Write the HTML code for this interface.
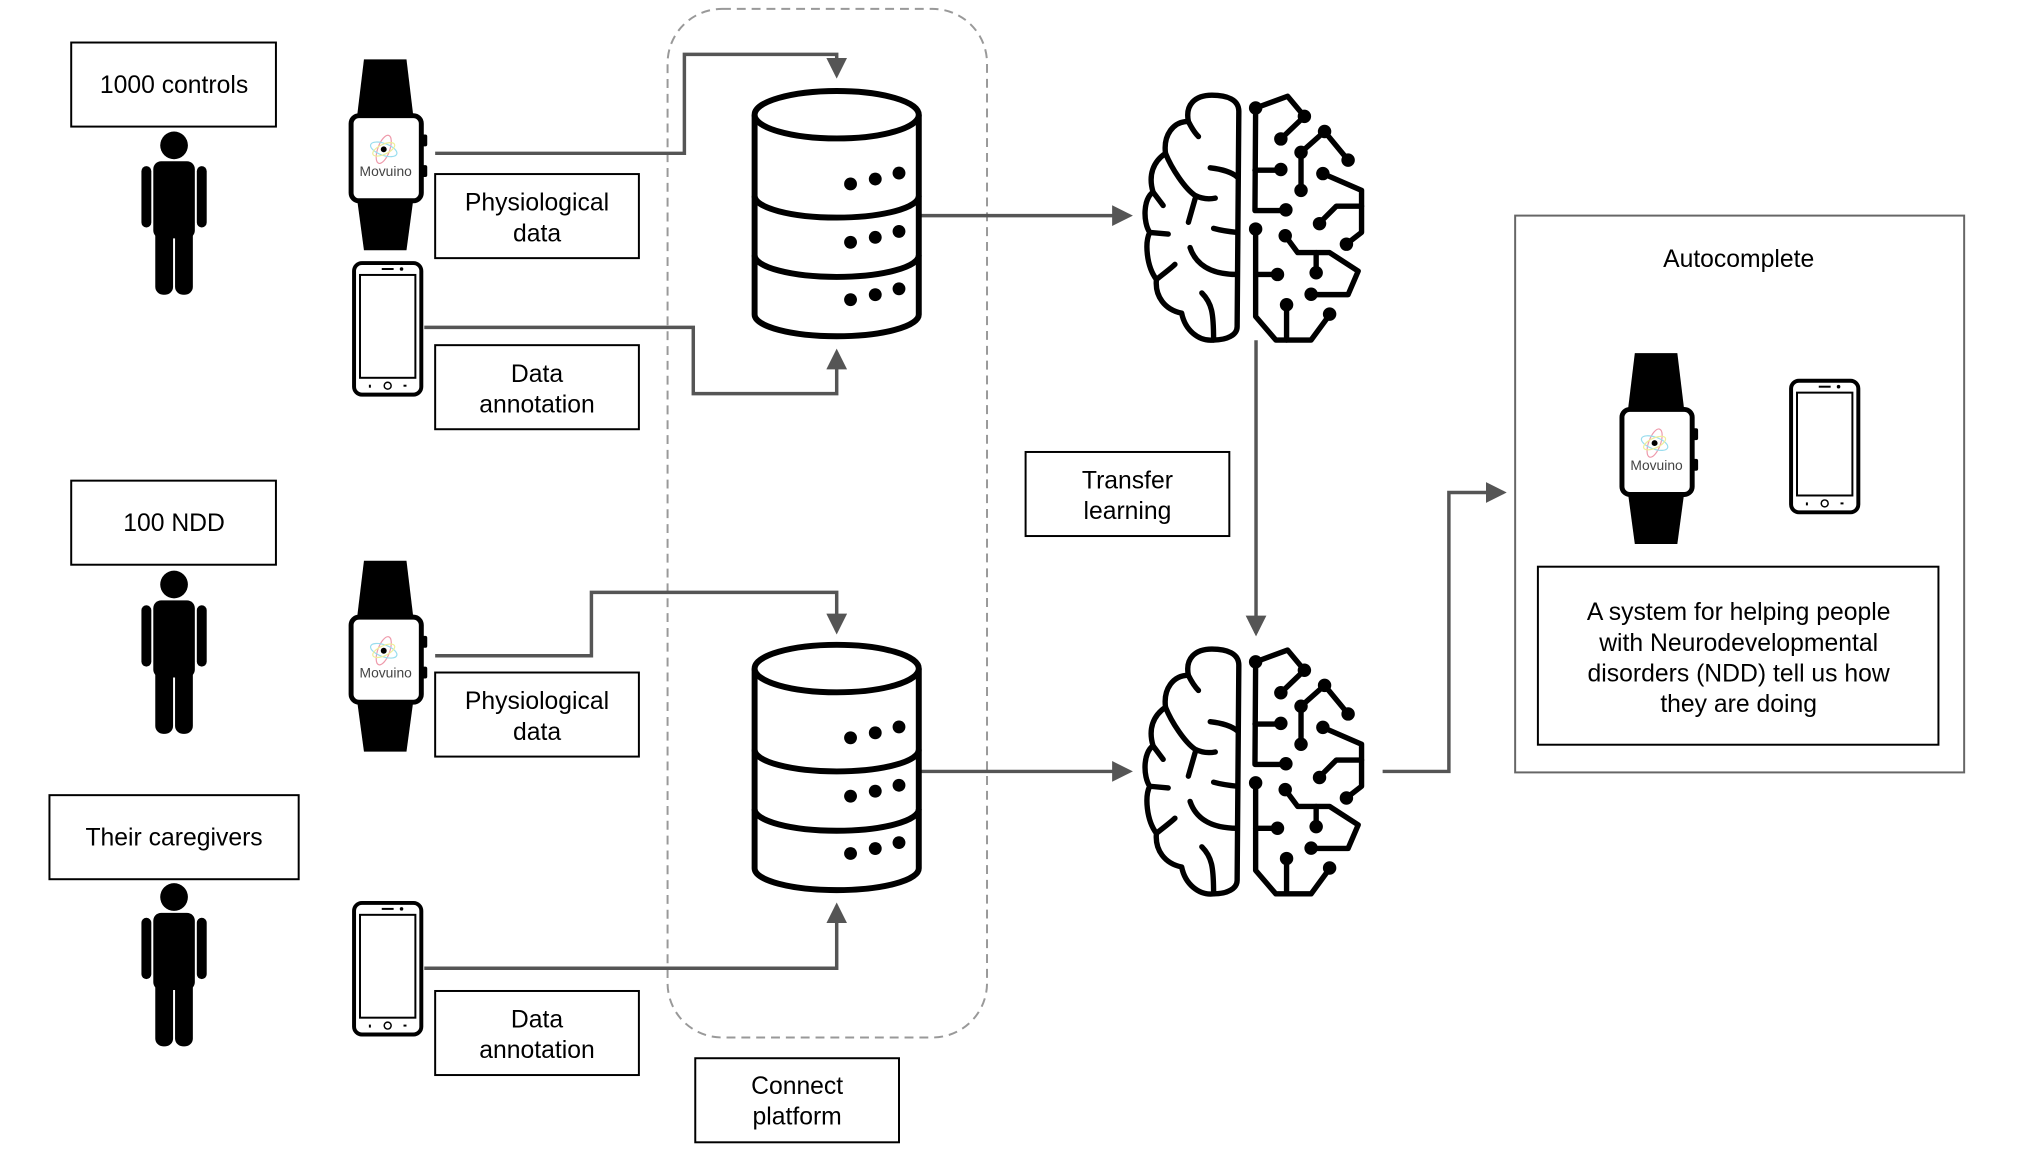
<!DOCTYPE html>
<html><head><meta charset="utf-8"><style>
html,body{margin:0;padding:0;background:#fff;}
svg{display:block;}
text{font-family:"Liberation Sans",Arial,sans-serif;font-size:25px;fill:#000;text-anchor:middle;}
</style></head><body>
<svg width="2024" height="1152" viewBox="0 0 2024 1152" xmlns="http://www.w3.org/2000/svg">
<defs>
<g id="person">
  <circle cx="176" cy="147" r="14"/>
  <rect x="155" y="163" width="42" height="78" rx="8"/>
  <rect x="143" y="168" width="10" height="62" rx="5"/>
  <rect x="199" y="168" width="10" height="62" rx="5"/>
  <rect x="157" y="225" width="18" height="73" rx="8"/>
  <rect x="177" y="225" width="18" height="73" rx="8"/>
</g>
<g id="watch">
  <path d="M27,7 H70 L77,65 H20 Z" fill="#000"/>
  <path d="M20,148 H77 L70,200 H27 Z" fill="#000"/>
  <rect x="85" y="83" width="6" height="12" rx="2" fill="#000"/>
  <rect x="85" y="114" width="6" height="12" rx="2" fill="#000"/>
  <rect x="14" y="64" width="71" height="86" rx="8" fill="#fff" stroke="#000" stroke-width="5"/>
  <ellipse cx="47" cy="98" rx="6" ry="15" fill="none" stroke="#e9a" stroke-width="1.2" transform="rotate(20 47 98)"/>
  <ellipse cx="47" cy="98" rx="14" ry="6" fill="none" stroke="#9de" stroke-width="1.2" transform="rotate(20 47 98)"/>
  <ellipse cx="47" cy="98" rx="12" ry="5" fill="none" stroke="#ee9" stroke-width="1.2" transform="rotate(-25 47 98)"/>
  <circle cx="47" cy="98" r="3" fill="#000"/>
  <text x="49" y="125" style="font-size:14px;fill:#444">Movuino</text>
</g>
<g id="phone">
  <rect x="2" y="2" width="68" height="133" rx="8" fill="#fff" stroke="#000" stroke-width="4"/>
  <rect x="8" y="14" width="56" height="104" fill="none" stroke="#000" stroke-width="2"/>
  <rect x="30" y="7" width="12" height="2" fill="#000"/>
  <circle cx="50" cy="8" r="1.8" fill="#000"/>
  <circle cx="36" cy="126" r="3.5" fill="none" stroke="#000" stroke-width="1.5"/>
  <rect x="17" y="125" width="2" height="3" fill="#000"/>
  <rect x="52" y="125" width="3" height="2" fill="#000"/>
</g>
<g id="db" fill="none" stroke="#000" stroke-width="6">
  <path d="M753,116 V318 A83,22 0 0 0 919,318 V116"/>
  <ellipse cx="836" cy="116" rx="83" ry="24" fill="#fff"/>
  <path d="M753,198 A83,22 0 0 0 919,198"/>
  <path d="M753,258 A83,22 0 0 0 919,258"/>
  <g fill="#000" stroke="none">
    <circle cx="850" cy="186" r="6.5"/><circle cx="875" cy="181" r="6.5"/><circle cx="899" cy="175" r="6.5"/>
    <circle cx="850" cy="245" r="6.5"/><circle cx="875" cy="240" r="6.5"/><circle cx="899" cy="234" r="6.5"/>
    <circle cx="850" cy="303" r="6.5"/><circle cx="875" cy="298" r="6.5"/><circle cx="899" cy="292" r="6.5"/>
  </g>
</g>
<g id="brain" fill="none" stroke="#000" stroke-width="16" stroke-linecap="round" stroke-linejoin="round">
  <path d="M285,730 L290,90 C290,55 255,42 210,42 C160,42 130,70 140,120 C95,120 65,160 72,215 C35,240 20,280 35,330 C5,350 5,420 25,450 C10,480 15,550 45,590 C40,640 70,680 120,690 C130,740 170,775 215,770 C255,770 285,755 285,730 Z"/>
  <path d="M140,120 C150,140 160,155 170,165"/>
  <path d="M72,215 C90,260 130,320 160,340 C180,350 200,352 220,348"/>
  <path d="M205,258 C240,262 270,272 285,285"/>
  <path d="M160,350 L140,420"/>
  <path d="M35,330 L65,370"/>
  <path d="M25,450 L80,455"/>
  <path d="M215,438 C240,445 265,448 285,450"/>
  <path d="M145,495 C160,540 200,575 285,575"/>
  <path d="M45,590 C70,570 90,555 100,545"/>
  <path d="M180,630 C210,660 215,690 215,770"/>
  <path d="M340,80 L338,385 L430,385"/>
  <path d="M338,265 L415,265"/>
  <path d="M340,80 L435,45 L485,105 L415,172"/>
  <path d="M475,212 L545,150 L615,235"/>
  <path d="M475,212 L475,325"/>
  <path d="M540,275 L655,325 L655,450 L610,485"/>
  <path d="M655,372 L580,372 L530,422"/>
  <path d="M340,440 L340,700 L400,770 L505,770 L560,695"/>
  <path d="M340,575 L405,575"/>
  <path d="M432,665 L432,770"/>
  <path d="M428,460 L465,510 L560,510 L645,565 L615,635 L505,635"/>
  <path d="M520,510 L520,570"/>
  <g fill="#000" stroke="none">
    <circle cx="340" cy="80" r="20"/><circle cx="485" cy="105" r="20"/><circle cx="415" cy="172" r="20"/>
    <circle cx="415" cy="263" r="20"/><circle cx="430" cy="383" r="20"/><circle cx="475" cy="212" r="20"/>
    <circle cx="545" cy="150" r="20"/><circle cx="615" cy="235" r="20"/><circle cx="475" cy="325" r="20"/>
    <circle cx="540" cy="275" r="20"/><circle cx="610" cy="485" r="20"/><circle cx="530" cy="424" r="20"/>
    <circle cx="340" cy="440" r="20"/><circle cx="428" cy="460" r="20"/><circle cx="405" cy="575" r="20"/>
    <circle cx="520" cy="570" r="20"/><circle cx="505" cy="634" r="20"/><circle cx="432" cy="665" r="20"/>
    <circle cx="560" cy="693" r="20"/>
  </g>
</g>
<marker id="ah" markerWidth="6" markerHeight="6" refX="5" refY="3" orient="auto" markerUnits="strokeWidth">
  <path d="M0,0 L6,3 L0,6 Z" fill="#555"/>
</marker>
</defs>

<g transform="scale(0.989)">
<rect x="675" y="9" width="323" height="1040" rx="55" fill="none" stroke="#999" stroke-width="2" stroke-dasharray="9,6"/>

<use href="#person"/>
<use href="#person" transform="translate(0,444)"/>
<use href="#person" transform="translate(0,760)"/>

<g fill="none" stroke="#000" stroke-width="2">
  <rect x="72" y="43" width="207" height="85"/>
  <rect x="72" y="486" width="207" height="85"/>
  <rect x="50" y="804" width="252" height="85"/>
  <rect x="440" y="176" width="206" height="85"/>
  <rect x="440" y="349" width="206" height="85"/>
  <rect x="440" y="680" width="206" height="85"/>
  <rect x="440" y="1002" width="206" height="85"/>
  <rect x="703" y="1070" width="206" height="85"/>
  <rect x="1037" y="457" width="206" height="85"/>
  <rect x="1555" y="573" width="405" height="180"/>
</g>
<rect x="1532" y="218" width="454" height="563" fill="none" stroke="#666" stroke-width="2"/>

<g fill="none" stroke="#555" stroke-width="3.5">
  <path d="M440,155 H692 V55 H846 V76" marker-end="url(#ah)"/>
  <path d="M429,331 H701 V398 H846 V356" marker-end="url(#ah)"/>
  <path d="M929,218 H1142" marker-end="url(#ah)"/>
  <path d="M440,663 H598 V599 H846 V638" marker-end="url(#ah)"/>
  <path d="M429,979 H846 V916" marker-end="url(#ah)"/>
  <path d="M929,780 H1142" marker-end="url(#ah)"/>
  <path d="M1270,344 V640" marker-end="url(#ah)"/>
  <path d="M1398,780 H1465 V498 H1520" marker-end="url(#ah)"/>
</g>

<use href="#db" transform="translate(10,0)"/>
<use href="#db" transform="translate(10,560)"/>

<use href="#brain" transform="translate(1154,82) scale(0.34)"/>
<use href="#brain" transform="translate(1154,642) scale(0.34)"/>

<use href="#watch" transform="translate(341,53)"/>
<use href="#watch" transform="translate(341,560)"/>
<use href="#watch" transform="translate(1626,350)"/>
<use href="#phone" transform="translate(356,264)"/>
<use href="#phone" transform="translate(356,911)"/>
<use href="#phone" transform="translate(1809,383)"/>

<text x="176" y="94">1000 controls</text>
<text x="176" y="537">100 NDD</text>
<text x="176" y="855">Their caregivers</text>
<text x="543" y="213">Physiological</text>
<text x="543" y="244">data</text>
<text x="543" y="386">Data</text>
<text x="543" y="417">annotation</text>
<text x="543" y="717">Physiological</text>
<text x="543" y="748">data</text>
<text x="543" y="1039">Data</text>
<text x="543" y="1070">annotation</text>
<text x="806" y="1106">Connect</text>
<text x="806" y="1137">platform</text>
<text x="1140" y="494">Transfer</text>
<text x="1140" y="525">learning</text>
<text x="1758" y="270">Autocomplete</text>
<text x="1758" y="627">A system for helping people</text>
<text x="1758" y="658">with Neurodevelopmental</text>
<text x="1758" y="689">disorders (NDD) tell us how</text>
<text x="1758" y="720">they are doing</text>
</g>
</svg>
</body></html>
